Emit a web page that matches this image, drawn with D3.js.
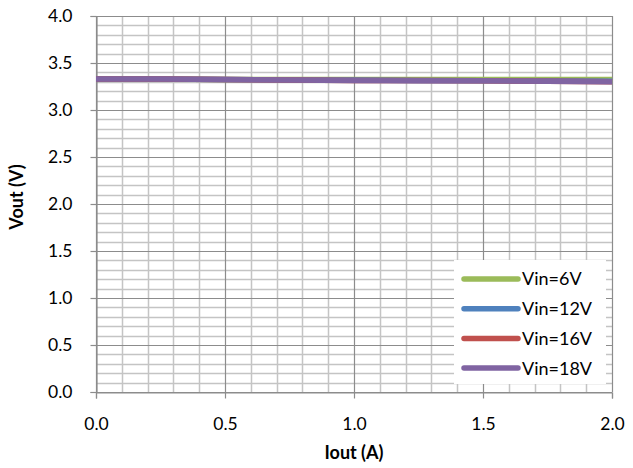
<!DOCTYPE html>
<html>
<head>
<meta charset="utf-8">
<script src="https://cdn.jsdelivr.net/npm/d3@7"></script>
<style>
  body { margin: 0; background: #fff; }
  text { font-family: Lato, "Open Sans", sans-serif; fill: #000; }
</style>
</head>
<body>
<div id="chart"></div>
<script>
// load current (A)
const iout = [0, 0.25, 0.5, 0.75, 1.0, 1.25, 1.5, 1.75, 2.0];
// output voltage per input voltage
const vin6 = [3.33, 3.33, 3.325, 3.325, 3.325, 3.325, 3.325, 3.325, 3.325];
const vin12 = [3.33, 3.33, 3.325, 3.32, 3.32, 3.315, 3.31, 3.31, 3.305];
const vin16 = [3.33, 3.33, 3.325, 3.32, 3.315, 3.315, 3.31, 3.305, 3.3];
const vin18 = [3.33, 3.33, 3.325, 3.32, 3.315, 3.31, 3.31, 3.305, 3.3];
const seriesNames = ["Vin=6V", "Vin=12V", "Vin=16V", "Vin=18V"];
const xTicks = [0, 0.5, 1.0, 1.5, 2.0];
const yTicks = [0, 0.5, 1.0, 1.5, 2.0, 2.5, 3.0, 3.5, 4.0];

const colors = ["#9bbb59", "#4f81bd", "#c0504d", "#8064a2"];
const allSeries = [vin6, vin12, vin16, vin18];

const width = 633, height = 468;
const margin = { left: 96, right: 21, top: 16, bottom: 76 };

const svg = d3.select("#chart").append("svg")
  .attr("width", width)
  .attr("height", height);

const x = d3.scaleLinear().domain([0, 2]).range([margin.left, width - margin.right]);
const y = d3.scaleLinear().domain([0, 4]).range([height - margin.bottom, margin.top]);

// minor grid (every 0.1)
const minorX = d3.range(1, 20).map(i => i / 10).filter(v => Math.round(v * 10) % 5 !== 0);
const minorY = d3.range(1, 40).map(i => i / 10).filter(v => Math.round(v * 10) % 5 !== 0);

const grid = svg.append("g");
grid.selectAll("line.mx").data(minorX).join("line")
  .attr("x1", d => Math.round(x(d)) + 0.5).attr("x2", d => Math.round(x(d)) + 0.5)
  .attr("y1", y(0)).attr("y2", y(4))
  .attr("stroke", "#c4c4c4").attr("stroke-width", 1.5);
grid.selectAll("line.my").data(minorY).join("line")
  .attr("y1", d => Math.round(y(d)) + 0.5).attr("y2", d => Math.round(y(d)) + 0.5)
  .attr("x1", x(0)).attr("x2", x(2))
  .attr("stroke", "#c4c4c4").attr("stroke-width", 1.5);

// major grid
grid.selectAll("line.Mx").data(xTicks).join("line")
  .attr("x1", d => Math.round(x(d)) + 0.5).attr("x2", d => Math.round(x(d)) + 0.5)
  .attr("y1", y(0)).attr("y2", y(4))
  .attr("stroke", "#8c8c8c").attr("stroke-width", 1.2);
grid.selectAll("line.My").data(yTicks).join("line")
  .attr("y1", d => Math.round(y(d)) + 0.5).attr("y2", d => Math.round(y(d)) + 0.5)
  .attr("x1", x(0)).attr("x2", x(2))
  .attr("stroke", "#8c8c8c").attr("stroke-width", 1.2);

// axes
const xAxis = svg.append("g")
  .attr("transform", `translate(0,${Math.round(y(0)) + 0.5})`)
  .call(d3.axisBottom(x).tickValues(xTicks).tickFormat(d3.format(".1f")).tickSize(6).tickPadding(19));
const yAxis = svg.append("g")
  .attr("transform", `translate(${Math.round(x(0)) + 0.5},0)`)
  .call(d3.axisLeft(y).tickValues(yTicks).tickFormat(d3.format(".1f")).tickSize(6).tickPadding(18));
[xAxis, yAxis].forEach(a => {
  a.selectAll("path").attr("stroke", "#8c8c8c").attr("stroke-width", 1.2);
  a.selectAll(".tick line").attr("stroke", "#8c8c8c").attr("stroke-width", 1.2);
  a.selectAll("text").style("font-size", "17.5px").style("font-family", "Lato, sans-serif").attr("fill", "#000");
});

// lines
const line = d3.line().x((d, i) => x(iout[i])).y(d => y(d));
svg.append("g").selectAll("path").data(allSeries).join("path")
  .attr("d", line)
  .attr("fill", "none")
  .attr("stroke", (d, i) => colors[i])
  .attr("stroke-width", 5.5);

// legend
const lg = svg.append("g").attr("transform", "translate(454,260)");
lg.append("rect").attr("width", 152).attr("height", 124).attr("fill", "#fff");
const item = lg.selectAll("g").data(seriesNames).join("g")
  .attr("transform", (d, i) => `translate(0,${19 + i * 29.7})`);
item.append("line")
  .attr("x1", 10).attr("x2", 64)
  .attr("stroke", (d, i) => colors[i])
  .attr("stroke-width", 5.5)
  .attr("stroke-linecap", "round");
item.append("text")
  .attr("x", 68).attr("dy", "0.36em")
  .style("font-size", "18px")
  .text(d => d);

// axis titles
svg.append("text")
  .attr("x", x(1)).attr("y", 459)
  .attr("text-anchor", "middle")
  .style("font-size", "18px").style("font-weight", "bold")
  .text("Iout (A)");
svg.append("text")
  .attr("transform", "translate(23,197) rotate(-90)")
  .attr("text-anchor", "middle")
  .style("font-size", "18px").style("font-weight", "bold")
  .text("Vout (V)");
</script>
</body>
</html>
